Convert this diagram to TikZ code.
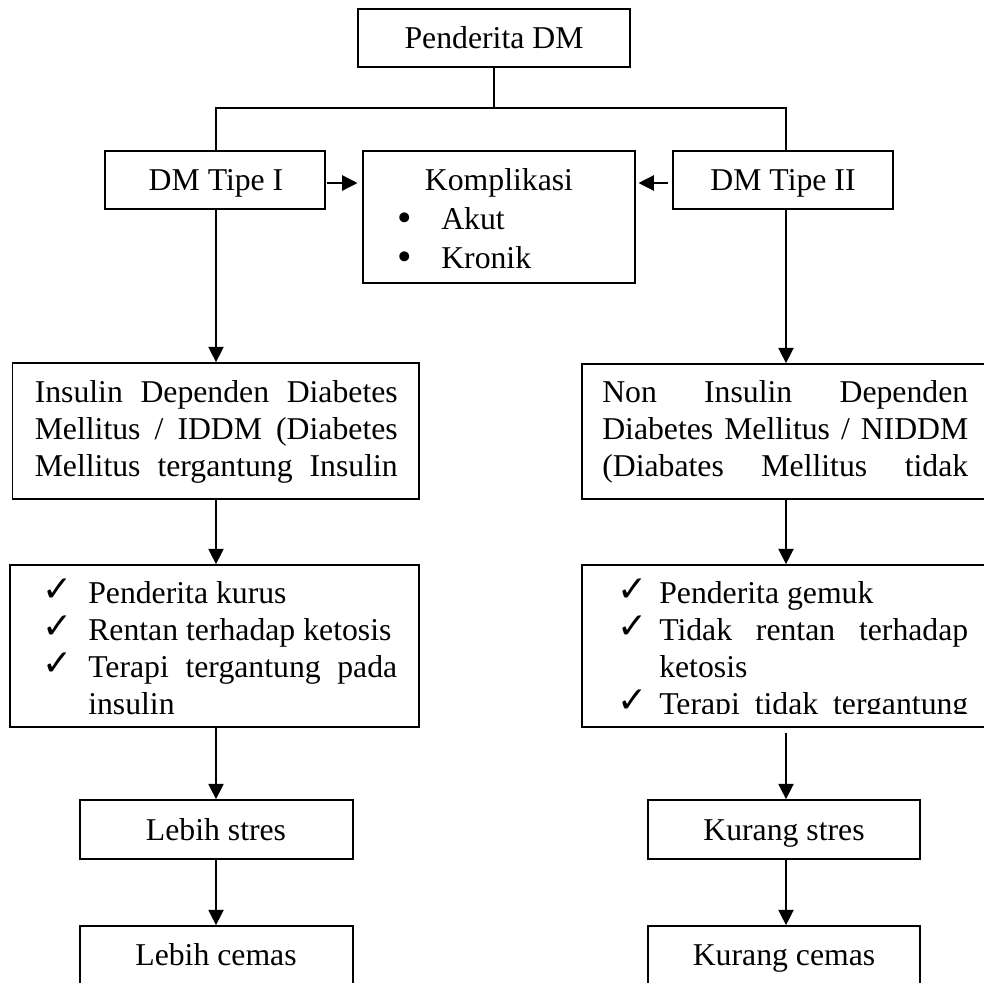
\documentclass[tikz,border=0pt]{standalone}
\usepackage{fontspec}
\setmainfont{Liberation Serif}
\newfontfamily\symfont{DejaVu Sans}
\usetikzlibrary{arrows.meta,fit}
\newcommand{\ck}{{\symfont\fontsize{27}{27}\selectfont ✓}}
\begin{document}
\begin{tikzpicture}[x=0.75pt,y=-0.75pt,
  box/.style={draw,line width=1.3pt,inner sep=0pt},
  txt/.style={font=\fontsize{23.8}{28}\selectfont,inner sep=0pt,anchor=base},
  ltxt/.style={font=\fontsize{23.8}{28}\selectfont,inner sep=0pt,anchor=base west},
  bul/.style={font=\fontsize{31}{31}\selectfont,inner sep=0pt,anchor=base west},
  ln/.style={line width=1pt},
  arr/.style={line width=1pt,-{Triangle[length=11.5pt,width=11.5pt]}}]
\clip (0,0) rectangle (984,982);
% boxes
\node[box,fit={(358,9) (630,67)}] (pd) {};
\node[box,fit={(105,151) (325,209)}] (t1) {};
\node[box,fit={(363,151) (635,283)}] (komp) {};
\node[box,fit={(673,151) (893,209)}] (t2) {};
\node[box,fit={(12.5,363) (419,499)}] (iddm) {};
\node[box,fit={(582,364) (995,499)}] (niddm) {};
\node[box,fit={(10,565) (419,727)}] (ck1) {};
\node[box,fit={(582,565) (995,727)}] (ck2) {};
\node[box,fit={(80,800) (353,859)}] (ls) {};
\node[box,fit={(648,800) (920,859)}] (ks) {};
\node[box,fit={(80,926) (353,995)}] (lc) {};
\node[box,fit={(648,926) (920,995)}] (kc) {};
% texts
\node[txt] (tpd) at (494,48) {Penderita DM};
\node[txt] (tt1) at (216,190) {DM Tipe I};
\node[txt] (tt2) at (783,190) {DM Tipe II};
\node[txt] (tk) at (499,190) {Komplikasi};
\node[bul] (b1) at (397,231) {•};
\node[bul] (b2) at (397,270) {•};
\node[ltxt] (ka) at (441,229) {Akut};
\node[ltxt] (kb) at (441,268) {Kronik};
\node[txt] (tls) at (216,840) {Lebih stres};
\node[txt] (tks) at (784,840) {Kurang stres};
\node[txt] (tlc) at (216,965) {Lebih cemas};
\node[txt] (tkc) at (784,965) {Kurang cemas};
% IDDM
\node[ltxt] (i1) at (34.5,402) {\makebox[272.25pt][s]{Insulin Dependen Diabetes}};
\node[ltxt] (i2) at (34.5,439) {\makebox[272.25pt][s]{Mellitus / IDDM (Diabetes}};
\node[ltxt] (i3) at (34.5,476) {\makebox[272.25pt][s]{Mellitus tergantung Insulin}};
% NIDDM (clipped)
\begin{scope}
\clip (583,365) rectangle (984,490);
\node[ltxt] (n1) at (602,402) {\makebox[274.5pt][s]{Non Insulin Dependen}};
\node[ltxt] (n2) at (602,439) {\makebox[274.5pt][s]{Diabetes Mellitus / NIDDM}};
\node[ltxt] (n3) at (602,476) {\makebox[274.5pt][s]{(Diabates Mellitus tidak}};
\end{scope}
% checklist left
\node[ltxt] (c1a) at (42,601) {\ck};
\node[ltxt] (c1b) at (42,638) {\ck};
\node[ltxt] (c1c) at (42,675) {\ck};
\node[ltxt] (l1) at (88,603) {Penderita kurus};
\node[ltxt] (l2) at (88,640) {Rentan terhadap ketosis};
\node[ltxt] (l3) at (88,677) {\makebox[231.75pt][s]{Terapi tergantung pada}};
\node[ltxt] (l4) at (88,714) {insulin};
% checklist right (clipped)
\begin{scope}
\clip (583,566) rectangle (984,713.5);
\node[ltxt] (c2a) at (617,601) {\ck};
\node[ltxt] (c2b) at (617,638) {\ck};
\node[ltxt] (c2c) at (617,712) {\ck};
\node[ltxt] (r1) at (659,603) {Penderita gemuk};
\node[ltxt] (r2) at (659,640) {\makebox[231.75pt][s]{Tidak rentan terhadap}};
\node[ltxt] (r3) at (659,677) {ketosis};
\node[ltxt] (r4) at (659,714) {\makebox[231.75pt][s]{Terapi tidak tergantung}};
\end{scope}
% connectors
\coordinate (jl) at (216,108);
\coordinate (jr) at (786,108);
\coordinate (ay) at (0,183);
\draw[ln] (pd.south) -- (pd.south |- jl);
\draw[ln] (jl |- t1.north) -- (jl) -- (jr) -- (jr |- t2.north);
\draw[arr,shorten <=0.5pt,shorten >=3.5pt] (t1.east |- ay) -- (komp.west |- ay);
\draw[arr,shorten <=3pt,shorten >=2pt] (t2.west |- ay) -- (komp.east |- ay);
\draw[arr] (jl |- t1.south) -- (jl |- iddm.north);
\draw[arr] (jr |- t2.south) -- (jr |- niddm.north);
\draw[arr] (jl |- iddm.south) -- (jl |- ck1.north);
\draw[arr] (jr |- niddm.south) -- (jr |- ck2.north);
\draw[arr] (jl |- ck1.south) -- (jl |- ls.north);
\draw[arr,shorten <=4pt] (jr |- ck2.south) -- (jr |- ks.north);
\draw[arr] (jl |- ls.south) -- (jl |- lc.north);
\draw[arr] (jr |- ks.south) -- (jr |- kc.north);
\end{tikzpicture}
\end{document}
